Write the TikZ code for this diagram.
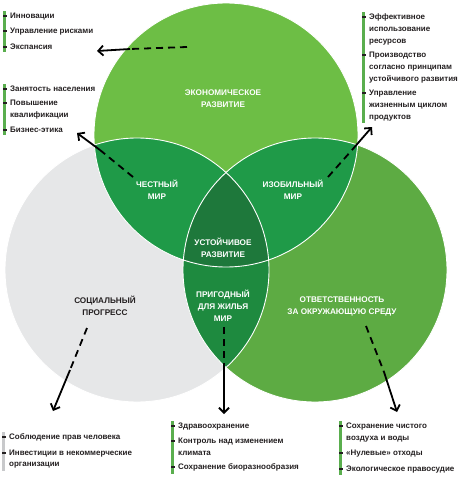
\documentclass[tikz,border=0pt]{standalone}
\usepackage{fontspec}
\setmainfont{Liberation Sans}
\usepackage{xcolor}
\usepackage{tikz}
\usetikzlibrary{arrows.meta}
\usetikzlibrary{positioning}
\definecolor{ecogreen}{HTML}{6DBE45}
\definecolor{envgreen}{HTML}{5DAB43}
\definecolor{socgray}{HTML}{E6E7E8}
\definecolor{midgreen}{HTML}{1F9A48}
\definecolor{lensgreen}{HTML}{1E8A3F}
\definecolor{coregreen}{HTML}{1E783B}
\definecolor{bargreen}{HTML}{5AAE4E}
\definecolor{bargray}{HTML}{C8C9CB}
\definecolor{ink}{HTML}{231F20}
\tikzstyle{zone} = [text=white, align=center, inner sep=0pt,
                    font=\bfseries\fontsize{8.2}{12}\selectfont]
\tikzstyle{item} = [anchor=north west, inner sep=0pt, align=left, text=ink,
                    font=\bfseries\fontsize{8}{11.8}\selectfont]
\tikzstyle{bar} = [draw=bargreen, line width=2.2pt]
\tikzstyle{notch} = [draw=ink, line width=2pt]
\tikzstyle{rim} = [draw=white, line width=0.9pt]
\tikzstyle{dline} = [draw, line width=1.8pt, dash pattern=on 7pt off 5pt]
\tikzstyle{line} = [draw, line width=1.8pt, -{Straight Barb[length=5pt,width=10pt]}]

\begin{document}
\begin{tikzpicture}[x=1pt, y=-1pt]
  \useasboundingbox (0,0) rectangle (474,479);
  % Circles
  \coordinate (c-eco) at (226,135);
  \coordinate (c-soc) at (137,270);
  \coordinate (c-env) at (315,270);
  \fill[socgray] (c-soc) circle[radius=132pt];
  \fill[envgreen] (c-env) circle[radius=132pt];
  \fill[ecogreen] (c-eco) circle[radius=132pt];
  \begin{scope}
    \clip (c-eco) circle[radius=132pt];
    \fill[midgreen] (c-soc) circle[radius=132pt];
    \fill[midgreen] (c-env) circle[radius=132pt];
  \end{scope}
  \begin{scope}
    \clip (c-soc) circle[radius=132pt];
    \fill[lensgreen] (c-env) circle[radius=132pt];
    \clip (c-env) circle[radius=132pt];
    \fill[coregreen] (c-eco) circle[radius=132pt];
  \end{scope}
  \foreach \c in {c-soc,c-env,c-eco}
    \path[rim] (\c) circle[radius=132pt];
  % Place zone labels
  \node[zone] (eco) at (223,99) {ЭКОНОМИЧЕСКОЕ\\РАЗВИТИЕ};
  \node[zone] (hon) at (157,190) {ЧЕСТНЫЙ\\МИР};
  \node[zone] (abu) at (293,190) {ИЗОБИЛЬНЫЙ\\МИР};
  \node[zone] (sus) at (223,248) {УСТОЙЧИВОЕ\\РАЗВИТИЕ};
  \node[zone] (hab) at (223,306) {ПРИГОДНЫЙ\\ДЛЯ ЖИЛЬЯ\\МИР};
  \node[zone] (env) at (342,306) {ОТВЕТСТВЕННОСТЬ\\ЗА ОКРУЖАЮЩУЮ СРЕДУ};
  \node[zone, text=ink] (soc) at (105,306) {СОЦИАЛЬНЫЙ\\ПРОГРЕСС};
  % Place lists
  \node[item] (a1) at (10,12.5) {Инновации};
  \node[item, below right=8pt and 0pt of a1.south west] (a2) {Управление рисками};
  \node[item, below right=8pt and 0pt of a2.south west] (a3) {Экспансия};
  \node[item] (b1) at (10,85.5) {Занятость населения};
  \node[item, below right=8pt and 0pt of b1.south west] (b2) {Повышение\\квалификации};
  \node[item, below right=8pt and 0pt of b2.south west] (b3) {Бизнес-этика};
  \node[item] (c1) at (369,13.5) {Эффективное\\использование\\ресурсов};
  \node[item, below right=7pt and 0pt of c1.south west] (c2) {Производство\\согласно принципам\\устойчивого развития};
  \node[item, below right=7pt and 0pt of c2.south west] (c3) {Управление\\жизненным циклом\\продуктов};
  \node[item] (d1) at (9,433.5) {Соблюдение прав человека};
  \node[item, below right=8pt and 0pt of d1.south west] (d2) {Инвестиции в некоммерческие\\организации};
  \node[item] (e1) at (178,422.5) {Здравоохранение};
  \node[item, below right=8pt and 0pt of e1.south west] (e2) {Контроль над изменением\\климата};
  \node[item, below right=8pt and 0pt of e2.south west] (e3) {Сохранение биоразнообразия};
  \node[item] (f1) at (346,422.5) {Сохранение чистого\\воздуха и воды};
  \node[item, below right=8pt and 0pt of f1.south west] (f2) {«Нулевые» отходы};
  \node[item, below right=8pt and 0pt of f2.south west] (f3) {Экологическое правосудие};
  % Bars and bullets
  \foreach \f/\l/\col in {a1/a3/bargreen, b1/b3/bargreen, c1/c3/bargreen,
                          d1/d2/bargray, e1/e3/bargreen, f1/f3/bargreen}
    \draw[bar, draw=\col] ([shift={(-5.5pt,1.5pt)}]\f.north west)
                          -- ([shift={(-5.5pt,-2pt)}]\l.south west);
  \foreach \n in {a1,a2,a3,b1,b2,b3,c1,c2,c3,d1,d2,e1,e2,e3,f1,f2,f3}
    \draw[notch] ([shift={(-7pt,-3.3pt)}]\n.north west) -- ++(3.5pt,0);
  % Draw edges
  \coordinate (eco-s) at (187,47);  \coordinate (eco-m) at (130,49);  \coordinate (eco-t) at (97,51);
  \coordinate (hon-s) at (133,177); \coordinate (hon-m) at (100,150); \coordinate (hon-t) at (77,133);
  \coordinate (abu-s) at (328,177); \coordinate (abu-m) at (352,150); \coordinate (abu-t) at (372,127);
  \coordinate (soc-s) at (87,328);  \coordinate (soc-m) at (70,370);  \coordinate (soc-t) at (53,411);
  \coordinate (hab-s) at (224,327); \coordinate (hab-m) at (224,364); \coordinate (hab-t) at (224,414);
  \coordinate (env-s) at (366,326); \coordinate (env-m) at (384,372); \coordinate (env-t) at (397,412);
  \foreach \n in {eco,hon,abu,soc,hab,env} {
    \path[dline] (\n-s) -- (\n-m);
    \path[line] (\n-m) -- (\n-t);
  }
\end{tikzpicture}
\end{document}
